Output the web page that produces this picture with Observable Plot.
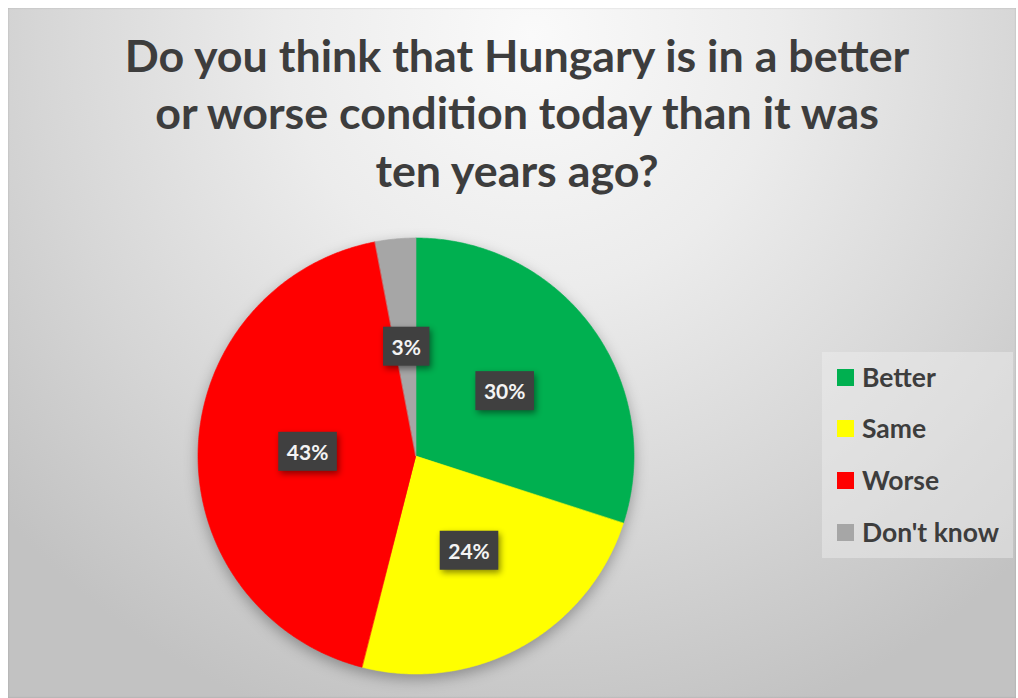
<!DOCTYPE html>
<html>
<head>
<meta charset="utf-8">
<script src="https://cdn.jsdelivr.net/npm/d3@7"></script>
<script src="https://cdn.jsdelivr.net/npm/@observablehq/plot@0.6"></script>
<style>
  html, body { margin: 0; padding: 0; width: 1018px; height: 698px; overflow: hidden; background: #ffffff; font-family: Lato, "Open Sans", sans-serif; }
  #panel { position: absolute; left: 8px; top: 8px; width: 1008px; height: 690px;
    background: radial-gradient(ellipse 70% 105% at 52% 4%, #fafafa 0%, #ececec 35%, #d6d6d6 70%, #c2c2c2 100%);
    box-shadow: inset 0 0 2px rgba(0,0,0,0.18); }
  #title { position: absolute; left: 0; width: 1034px; text-align: center; color: #3d3d3d; font-weight: 700; white-space: nowrap; }
  #title div { line-height: 57.5px; }
  #chart { position: absolute; left: 0; top: 210px; }
  #legend { position: absolute; left: 822px; top: 352px; width: 191px; height: 206px; background: rgba(240,240,240,0.45); }
  .item { position: absolute; left: 15px; height: 30px; display: flex; align-items: center; font-weight: 700; color: #3d3d3d; font-size: 26.5px; line-height: 26px; }
  .sw { width: 17px; height: 17px; margin-right: 8px; }
</style>
</head>
<body>
<div id="panel"></div>
<div id="title"></div>
<div id="chart"></div>
<div id="legend"></div>
<script>
// ---- data ----
const titleLines = ["Do you think that Hungary is in a better", "or worse condition today than it was", "ten years ago?"];
const categories = ["Better", "Same", "Worse", "Don't know"];
const values = [30, 24, 43, 3];
const labels = ["30%", "24%", "43%", "3%"];
const colors = ["#00b050", "#ffff00", "#ff0000", "#a6a6a6"];

// ---- title ----
const titleEl = document.getElementById("title");
titleLines.forEach(t => { const d = document.createElement("div"); const s = document.createElement("span"); s.textContent = t; d.appendChild(s); titleEl.appendChild(d); });
let F = 40;
titleEl.style.fontSize = F + "px";
const w0 = titleEl.querySelector("span").getBoundingClientRect().width;
F = F * 785 / w0;
titleEl.style.fontSize = F + "px";
titleEl.style.top = (73 - ((57.5 - 1.2 * F) / 2 + 0.987 * F)) + "px";

// ---- pie geometry from data ----
const arcs = d3.pie().sort(null)(values);
const slicePts = [];
const labelPts = [];
arcs.forEach((a, i) => {
  const n = Math.max(2, Math.ceil((a.endAngle - a.startAngle) / (Math.PI / 360)));
  for (let k = 0; k <= n; k++) {
    const t = a.startAngle + (a.endAngle - a.startAngle) * k / n;
    slicePts.push({cat: categories[i], cx: 0, cy: 0, x: Math.sin(t), y: Math.cos(t)});
  }
  const m = (a.startAngle + a.endAngle) / 2;
  labelPts.push({cat: categories[i], label: labels[i], x: 0.5 * Math.sin(m), y: 0.5 * Math.cos(m)});
});

const plot = Plot.plot({
  width: 1018,
  height: 488,
  marginLeft: 198,
  marginRight: 384,
  marginTop: 28,
  marginBottom: 24,
  style: {background: "transparent", fontFamily: "Lato, 'Open Sans', sans-serif", overflow: "visible"},
  x: {domain: [-1, 1], axis: null},
  y: {domain: [-1, 1], axis: null},
  color: {domain: categories, range: colors},
  marks: [
    Plot.area(slicePts, {x1: "cx", y1: "cy", x2: "x", y2: "y", z: "cat", fill: "cat", stroke: "cat", strokeWidth: 0.6}),
    Plot.text(labelPts, {x: "x", y: "y", text: "label", fill: "#f4f4f4", fontSize: 21, fontWeight: "bold", fontFamily: "Lato"})
  ]
});
document.getElementById("chart").appendChild(plot);

// pie shadow
const areaG = plot.querySelector('g[aria-label="area"]');
if (areaG) areaG.style.filter = "drop-shadow(0px 5px 7px rgba(0,0,0,0.30))";

// label boxes
const texts = Array.from(plot.querySelectorAll('g[aria-label="text"] text'));
texts.forEach(t => {
  const b = t.getBBox();
  const r = document.createElementNS("http://www.w3.org/2000/svg", "rect");
  const cy = b.y + b.height / 2;
  r.setAttribute("x", b.x - 8.5);
  r.setAttribute("y", cy - 19.5);
  r.setAttribute("width", b.width + 17);
  r.setAttribute("height", 39);
  r.setAttribute("fill", "#404040");
  const tr = t.getAttribute("transform");
  if (tr) r.setAttribute("transform", tr);
  r.style.filter = "drop-shadow(2px 3px 3px rgba(0,0,0,0.45))";
  t.parentNode.insertBefore(r, t);
});
texts.forEach(t => t.parentNode.appendChild(t));

// ---- legend ----
const legend = document.getElementById("legend");
const rowCenters = [377, 428, 480, 532];
categories.forEach((c, i) => {
  const it = document.createElement("div");
  it.className = "item";
  it.style.top = (rowCenters[i] - 352 - 15) + "px";
  const sw = document.createElement("div");
  sw.className = "sw";
  sw.style.background = colors[i];
  const tx = document.createElement("span");
  tx.textContent = c;
  it.appendChild(sw); it.appendChild(tx);
  legend.appendChild(it);
});
</script>
</body>
</html>
